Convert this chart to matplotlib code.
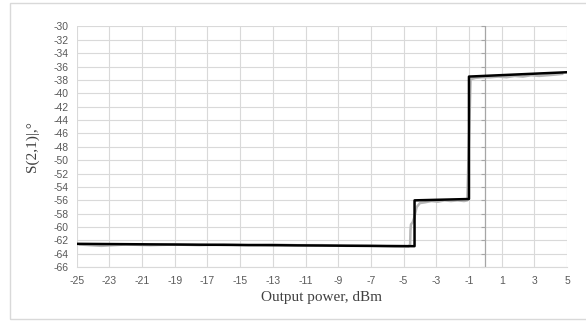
import matplotlib
matplotlib.use("Agg")
import matplotlib.pyplot as plt
import numpy as np

plt.rcParams["axes.unicode_minus"] = False

# black model curve (step-like)
x_fit = [-25, -4.33, -4.33, -1.0, -1.0, 5]
y_fit = [-62.5, -62.85, -56.0, -55.8, -37.5, -36.85]

x_meas = [-24.8, -23.5, -22, -20.5, -19, -17.5, -16, -14.5, -13, -11.5, -10, -8.5, -7, -5.5, -4.7,
          -4.6, -4.58, -4.55, -4.45, -4.35, -4.2, -4.0, -3.7, -3.3, -2.9, -2.5, -2.1, -1.7, -1.3, -1.1,
          -0.9, -0.6, -0.2, 0.3, 0.8, 1.3, 1.8, 2.3, 2.8, 3.3, 3.8, 4.3, 4.7]
y_meas = [-62.6, -62.8, -62.6, -62.7, -62.6, -62.7, -62.6, -62.7, -62.6, -62.7, -62.7, -62.8, -62.8, -62.9, -62.9,
          -62.6, -60.5, -59.6, -59.3, -58.6, -57.0, -56.4, -56.3, -56.1, -56.2, -56.0, -56.1, -56.0, -56.1, -56.0,
          -37.9, -37.7, -37.6, -37.6, -37.5, -37.6, -37.4, -37.5, -37.3, -37.4, -37.3, -37.2, -37.1]

xticks = np.arange(-25, 6, 2)
yticks = np.arange(-66, -29, 2)

fig = plt.figure(figsize=(5.86, 3.22), dpi=100)
fig.patches.append(plt.Rectangle((10 / 586, 3 / 322), 1, 316 / 322, transform=fig.transFigure,
                                 fill=False, edgecolor="#d9d9d9", linewidth=1))
ax = fig.add_axes([0.131, 0.170, 0.8366, 0.748])

ax.plot(x_meas, y_meas, color="#b8b8b8", linewidth=1.8, zorder=2)
ax.plot(x_fit, y_fit, color="black", linewidth=1.8, zorder=3)

# vertical axis line at x = 0 with its tick marks
ax.axvline(0, color="#a6a6a6", linewidth=0.9, zorder=1)
ax.plot(np.zeros(len(yticks)), yticks, linestyle="none", marker=0, markersize=3,
        color="#a6a6a6", markeredgewidth=0.8, zorder=1, clip_on=False)

ax.set_xlim(-25, 5)
ax.set_ylim(-66, -30)
ax.set_xticks(xticks)
ax.set_yticks(yticks)
ax.grid(True, color="#d9d9d9", linewidth=0.8, zorder=0)
ax.set_axisbelow(True)
for s in ["top", "right", "left"]:
    ax.spines[s].set_visible(False)
ax.spines["bottom"].set_color("#d9d9d9")
ax.tick_params(length=0, labelsize=7.5, labelcolor="#595959", pad=6)
for lab in ax.get_xticklabels() + ax.get_yticklabels():
    lab.set_fontfamily("Liberation Sans")

ax.set_xlabel("Output power, dBm", fontfamily="Liberation Serif", fontsize=11, color="#404040", labelpad=4)
ax.set_ylabel("S(2,1)|,°", fontfamily="Liberation Serif", fontsize=11, color="#404040", labelpad=10)

fig.savefig("out.png", dpi=100)
